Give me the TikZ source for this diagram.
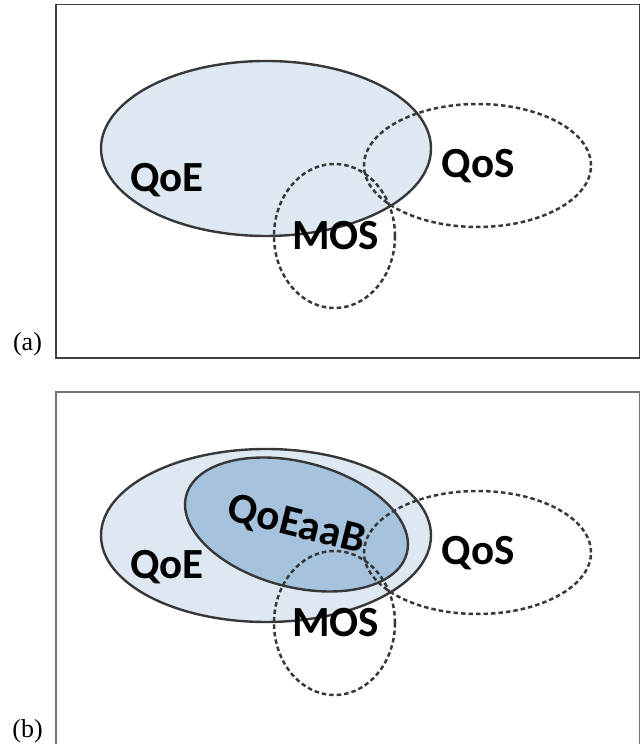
\documentclass[tikz,border=0pt]{standalone}
\usepackage{fontspec}
\setmainfont{Liberation Serif}
\newfontfamily\calib{Carlito}
\usetikzlibrary{shapes.geometric}
\definecolor{qoefill}{HTML}{DEE8F2}
\definecolor{innerfill}{HTML}{A6C3DD}
\definecolor{edge}{HTML}{383838}
\tikzset{
  panel/.style={draw=#1, line width=1.4pt},
  solidell/.style={ellipse, draw=edge, line width=2.4pt, inner sep=0pt, outer sep=0pt},
  dashell/.style={ellipse, draw=edge, line width=2.5pt, dash pattern=on 4.5pt off 3pt, inner sep=0pt, outer sep=0pt},
  lbl/.style={font=\calib\bfseries\fontsize{43}{48}\selectfont, inner sep=0pt, anchor=base, text=black},
  tag/.style={font=\fontsize{26}{30}\selectfont, inner sep=0pt, anchor=base}
}
\begin{document}
\begin{tikzpicture}[x=1pt,y=1pt]
\useasboundingbox (0,0) rectangle (642,744);
% ---------- panel (a) ----------
\draw[panel=black!75] (56,386) rectangle (639.5,739.5);
\node[solidell, fill=qoefill, minimum width=330pt, minimum height=175pt] (qoeA) at (266,595.5) {};
\node[dashell, minimum width=227pt, minimum height=123pt] (qosA) at (477.5,578.5) {};
\node[dashell, minimum width=121pt, minimum height=144pt] (mosA) at (334.5,508) {};
\node[lbl] (tqoeA) at (167,552) {QoE};
\node[lbl] (tqosA) at (478,566) {QoS};
\node[lbl] (tmosA) at (335.5,494) {MOS};
\node[tag] (tagA) at (27.5,393) {(a)};
% ---------- panel (b) ----------
\draw[panel=black!55] (56,-3) -- (56,352) -- (639.5,352) -- (639.5,-3);
\node[solidell, fill=qoefill, minimum width=330pt, minimum height=173pt] (qoeB) at (266,208.5) {};
\node[solidell, fill=innerfill, minimum width=228pt, minimum height=125pt, rotate=-14.65] (qoeaab) at (296.5,219.5) {};
\node[dashell, minimum width=227pt, minimum height=123pt] (qosB) at (477.5,191.5) {};
\node[dashell, minimum width=121pt, minimum height=144pt] (mosB) at (334.5,121) {};
\node[lbl] (tqoeB) at (167,165) {QoE};
\node[lbl, rotate=-14] (tqoeaab) at (293.7,207.4) {QoEaaB};
\node[lbl] (tqosB) at (478,179) {QoS};
\node[lbl] (tmosB) at (335.5,107) {MOS};
\node[tag] (tagB) at (27.5,6) {(b)};
\end{tikzpicture}
\end{document}
